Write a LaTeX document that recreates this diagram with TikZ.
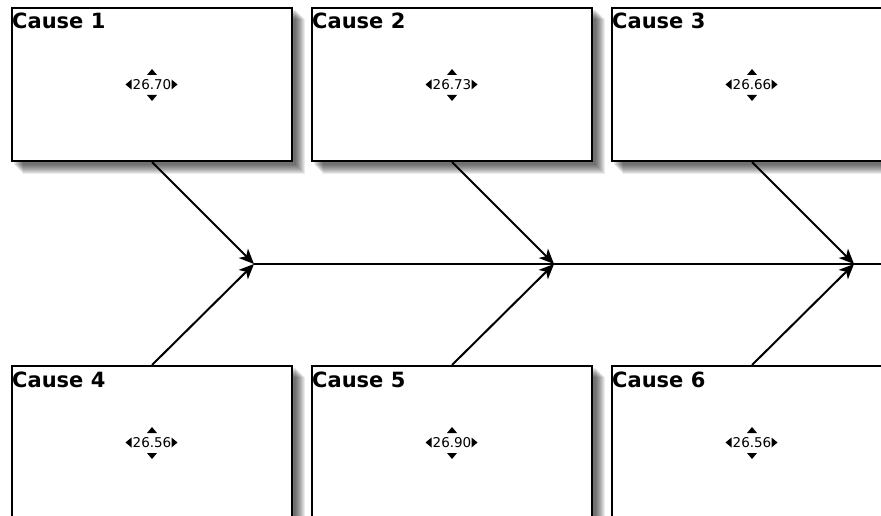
\documentclass[tikz,border=0pt]{standalone}
\usepackage{fontspec}
\usepackage{tikz}
\usetikzlibrary{arrows.meta,backgrounds}

\newfontfamily\causefont{DejaVu Sans}

% little arrow marks round a value
\newcommand\spinner[1]{%
	\fill[shift={(#1)}] (-5,-9.5) -- (5,-9.5) -- (0,-15.5) -- cycle;
	\fill[shift={(#1)}] (-5,10.5) -- (5,10.5) -- (0,16.5) -- cycle;
	\fill[shift={(#1)}] (-20.5,-5) -- (-20.5,5) -- (-26.5,0) -- cycle;
	\fill[shift={(#1)}] (19.5,-5) -- (19.5,5) -- (25.5,0) -- cycle;
}

\begin{document}
\begin{tikzpicture}[x=1pt, y=-1pt,
	cause/.style={draw, line width=2pt, fill=white, minimum width=280pt, minimum height=153pt, inner sep=0pt},
	title/.style={anchor=base west, inner sep=0pt, font=\causefont\bfseries\fontsize{21}{24}\selectfont},
	value/.style={inner sep=0pt, font=\causefont\fontsize{13.5}{15}\selectfont},
	bone/.style={line width=2pt, -{Stealth[length=15pt, width=13pt, inset=4pt]}}]
	\useasboundingbox (0,0) rectangle (881,516);

	% Boxes {c1, c2, c3, c4, c5, c6}
	\node [cause] (c1) at (152,84.5)  {};
	\node [cause] (c2) at (452,84.5)  {};
	\node [cause] (c3) at (752,84.5)  {};
	\node [cause] (c4) at (152,442.5) {};
	\node [cause] (c5) at (452,442.5) {};
	\node [cause] (c6) at (752,442.5) {};

	% Shadows
	\begin{scope}[on background layer]
	\foreach \i in {1,...,6}
		\foreach \k in {3,...,12}
			\fill[black, opacity=0.08] ([shift={(\k,\k)}]c\i.north west) rectangle ([shift={(\k,\k)}]c\i.south east);
	\end{scope}

	% Titles
	\node [title] (t1) at ([shift={(1,22)}]c1.north west) {Cause 1};
	\node [title] (t2) at ([shift={(1,22)}]c2.north west) {Cause 2};
	\node [title] (t3) at ([shift={(1,22)}]c3.north west) {Cause 3};
	\node [title] (t4) at ([shift={(1,22)}]c4.north west) {Cause 4};
	\node [title] (t5) at ([shift={(1,22)}]c5.north west) {Cause 5};
	\node [title] (t6) at ([shift={(1,22)}]c6.north west) {Cause 6};

	% Values
	\node [value] (v1) at (c1) {26.70};
	\node [value] (v2) at (c2) {26.73};
	\node [value] (v3) at (c3) {26.66};
	\node [value] (v4) at (c4) {26.56};
	\node [value] (v5) at (c5) {26.90};
	\node [value] (v6) at (c6) {26.56};
	\foreach \i in {1,...,6} {\spinner{v\i}}

	% Spine
	\coordinate (j1)   at (254,264);
	\coordinate (j2)   at (554,264);
	\coordinate (j3)   at (854,264);
	\coordinate (tail) at (881,264);
	\draw [line width=2pt] (j1) -- (tail);

	% Bones
	\draw [bone] (c1.south) -- (j1);
	\draw [bone] (c4.north) -- (j1);
	\draw [bone] (c2.south) -- (j2);
	\draw [bone] (c5.north) -- (j2);
	\draw [bone] (c3.south) -- (j3);
	\draw [bone] (c6.north) -- (j3);

\end{tikzpicture}
\end{document}
